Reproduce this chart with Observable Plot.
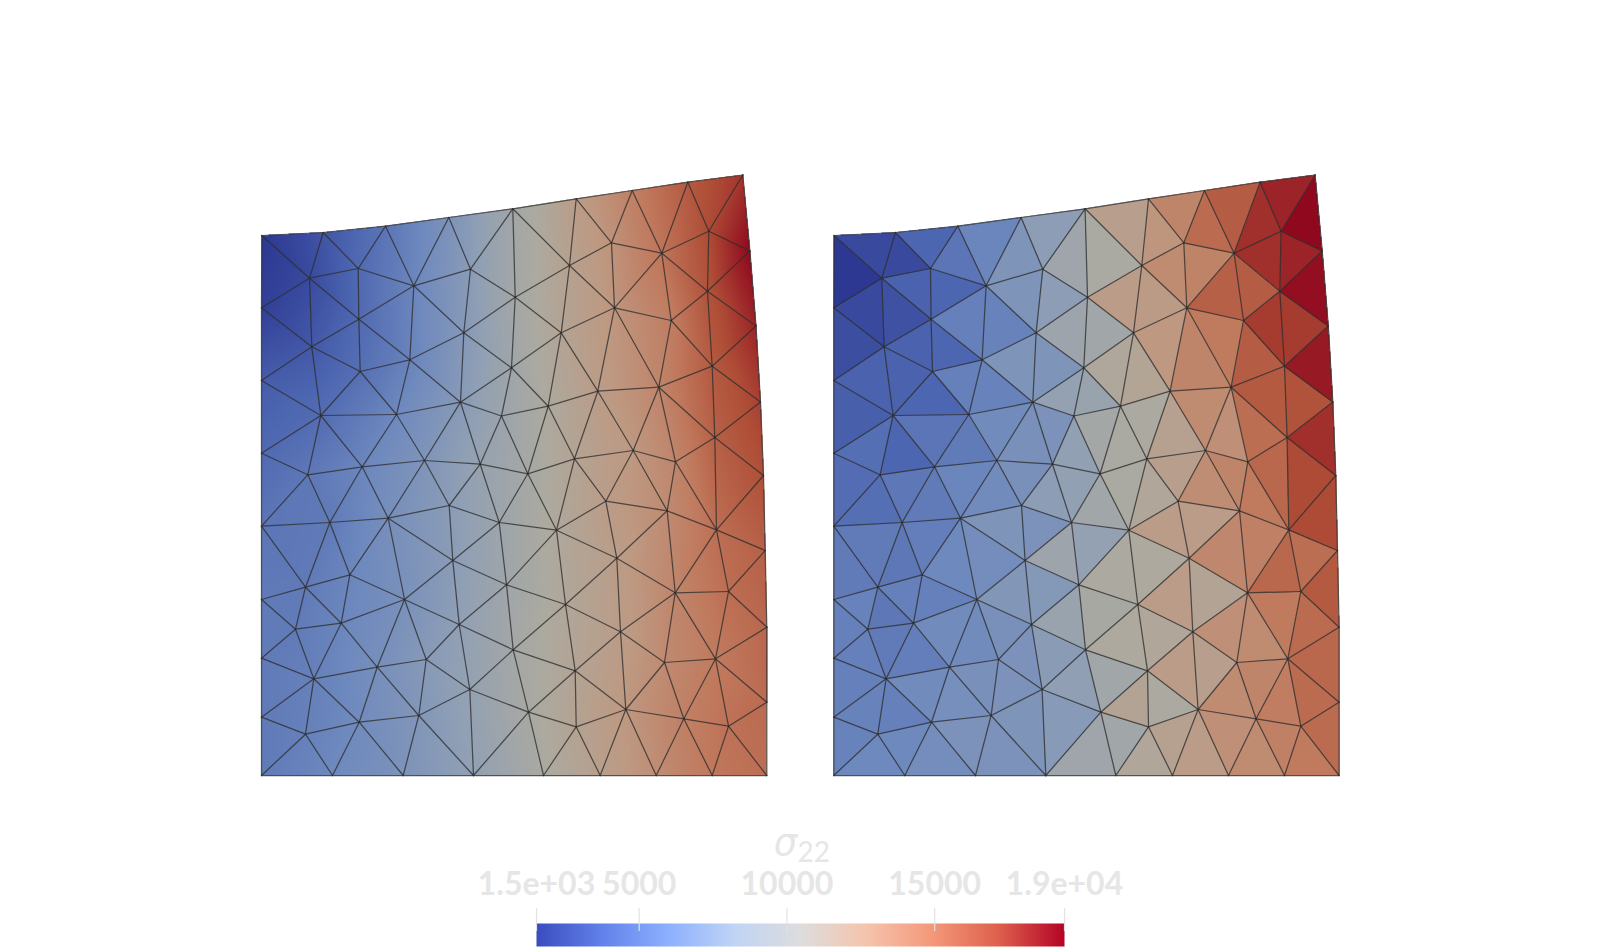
<!DOCTYPE html>
<html><head><meta charset="utf-8">
<script src="https://cdn.jsdelivr.net/npm/d3@7"></script>
<script src="https://cdn.jsdelivr.net/npm/@observablehq/plot@0.6"></script>
<style>html,body{margin:0;padding:0;background:#fff}svg{display:block}</style>
</head><body><div id="chart"></div>
<script>
// mesh nodes: id, x, y, nodal stress
const nodeIds = ["T0","T1","T2","T3","T4","T5","T6","T7","T8","L1","L2","L3","L4","L5","L6","L7","B0","B1","B2","B3","B4","B5","B6","B7","R8","R1","R2","R3","R4","R5","R6","R7",
"a","b","c","d","e","f","g","h","i","j","k","l","m","o","p","q","r","s","t","u","v","w","x","y","z",
"A","B","C","D","E","F","G","H","I","J","K","L","M","N","O","P","Q","R","S","T","U","V","W","X","Y","Z",
"a1","j1","k1","l1","m1","n1","o1","p1","q1","r1","s1","t1","u1","v1","w1","b1","c1","d1","e1","f1","g1","h1"];
const nodeX = [261.3,322.7,385,448.3,512.3,575.7,631.7,687.3,742.3,261,261,261,261,261,261,261,261,332,402.7,473,543,599.7,655.7,711.7,766.3,749.4,755.5,760,763,764.7,766.3,766.3,
309,357.7,413.3,470,358.3,463.3,311.3,409.3,359.7,569,611,661.3,708.3,514.7,614,707,670.7,560.7,711.7,511,320.3,396,460,501,307.3,
361.7,424,479.7,448.7,498.7,329.3,387.7,452.3,597.3,658.3,547.7,714.3,632.7,675,574,527.3,605.3,666.7,716,556,616.3,305,349.3,404,295,340.7,
458.7,506,565,620,674.7,728,512.7,574.7,664,715,528,625.3,575.7,683.3,728,313.3,376.7,425.7,469.3,305,358.7,418.3];
const nodeY = [235,232,225.7,217,208.3,198.3,190,181.7,174.5,307.3,380,452.7,525.7,599,657.7,716.7,775,775,775,775,775,775,775,775,775,250.4,325.5,401.5,475,550,626.7,701.7,
277.7,268,285.3,268.7,318.7,332.3,346.3,359.3,371,265,242.3,252.7,230.7,296.7,307.3,290.7,320,332.3,365.7,367.3,415,414,401.7,415.5,474.3,
466.3,460,463.7,505,522,522,517.7,560,390.7,386.7,405.7,437,450,461.3,458.3,473.3,500.7,510.3,529.3,529.7,557.7,586.7,574.3,599,628.7,622.7,
624,584.3,604,631.3,592.3,591,649.3,670.3,662,658.3,711.7,709,726.3,718.3,725.7,678.3,666.7,659,689,733.7,721.7,715];
const nodeStress = [1530,2960,4740,6890,9570,12250,14390,16530,17960,1900,3310,4030,4740,5100,5100,5100,5100,5990,6890,8310,10280,11890,13500,14930,15460,19390,18500,17600,17070,16180,15820,15640,
2420,4030,5810,7780,4030,7420,3130,5630,4380,11710,13140,15100,17250,9740,12960,16890,14570,11350,16530,9390,4200,5990,7600,9030,4920,
5810,7060,8670,7780,9210,5100,6530,7780,12250,14030,10640,16180,12780,14030,11350,9920,12250,13670,15460,10810,12250,5100,5810,6710,5100,5810,
8140,9390,10990,12250,14030,15460,9740,11350,13670,14750,10100,12780,11530,14390,15280,5460,6530,7600,8490,5460,6170,7240];

// mesh cells: node ids and the flat stress of each cell (right panel)
const cellNodes = ["T0 T1 a","T1 b a","T1 T2 b","T2 c b","T2 T3 c","T3 d c","T3 T4 d","T0 a L1","L1 a g","a e g","a b e","b c e","c h e","c f h","c d f","L1 g L2","g e i","e h i","L2 g v","g i v","i w v","h w i","h x w","h f x","f x u","d f o","T4 d o","f o u","x u y","u y K","x y C","y K P","T4 j o","T4 T5 j","T5 k j","T5 T6 k","T6 l k","T6 T7 l","T7 m l","T7 T8 m","T8 R1 m","j k p","o j s","j p s","k l p","l r p","l q r","l m q","m R1 q","R1 R2 q","q t r","q R2 t","o s u","u s K","s K I","p s I","p I J","p r J","r t J","J t L","t R2 R3","t R3 L","L R3 R4","L R4 S","J N M","J L N","L S N","N S R","M N R","M R Q","I J M","I M O","O M Q","K I O","K O P","y P C","P O T","O Q T","P T E","C P E","Q U T","Q R U","R S m1","S R4 R5","S R5 n1","S n1 m1","R U m1","T U k1","U l1 k1","U m1 l1","E T j1","T k1 j1","H E j1","D E H","C E D","B C D","x C B","w x B","w B A","v w A","v A z","L2 v L3","v z L3","L3 z L4","z F L4","z A F","A G F","A B G","B D G","G D H","G H X","H a1 X","H j1 a1","L4 F V","F W V","F G W","G X W","L4 V L5","L5 V Y","V Z Y","V W Z","W X Z","Z X c1","X d1 c1","X a1 d1","a1 e1 d1","a1 j1 o1","a1 o1 e1","L5 Y L6","Y b1 L6","Y Z b1","Z c1 b1","L6 b1 L7","b1 f1 L7","b1 g1 f1","b1 c1 g1","c1 h1 g1","c1 d1 h1","d1 e1 h1","h1 B3 e1","e1 B3 s1","e1 o1 s1","j1 k1 o1","o1 k1 p1","o1 p1 s1","p1 u1 s1","p1 t1 u1","k1 l1 p1","l1 t1 p1","l1 q1 t1","l1 m1 q1","m1 r1 q1","m1 n1 r1","n1 R6 r1","R5 R6 n1","R6 R7 r1","r1 R7 w1","q1 r1 v1","r1 w1 v1","q1 v1 t1","L7 f1 B0","f1 B0 B1","f1 B1 g1","g1 B1 B2","g1 B2 h1","h1 B2 B3","s1 B3 B4","s1 B4 u1","u1 B4 B5","u1 B5 t1","t1 B5 B6","t1 B6 v1","v1 B6 B7","v1 B7 w1","w1 B7 R8","w1 R8 R7"];
const cellStress = [2420,2420,3850,4740,5810,7060,7960,1530,2420,2780,3670,3850,5460,5630,7060,2600,3670,3850,3670,3670,3850,5460,5630,7060,7060,7960,9390,9210,8490,8850,6890,9740,10280,11890,12960,14030,15640,16350,18140,18500,19390,13670,12250,12420,14210,16180,16350,18140,18500,19210,17780,17780,9570,10810,11170,12780,14030,14750,16350,16530,18860,16890,18140,17250,13320,15460,15820,14750,14030,13500,13670,11710,11890,10460,10280,8310,10280,10990,9570,8310,12250,12250,14390,17250,15460,15820,13850,10640,12250,11350,8490,10460,9210,6890,7960,6710,6710,6170,5100,4740,3850,3490,4380,4210,4380,4920,5100,5810,6170,7060,6350,7240,7420,5100,4920,5280,5990,5100,5630,4920,5460,5460,6170,6170,6710,6890,8850,7780,5460,5460,5100,5280,5460,5630,5460,6170,6530,6710,6890,7060,7600,8140,10100,10640,9570,11350,10460,10990,12250,11890,13320,13670,14750,15640,16530,15820,15640,14030,14570,13670,5630,5990,5990,6350,6890,6890,9390,9570,10990,11710,12250,13320,13670,14390,14750,15640];

const panelOffset = [0, 572.3];
// colour map: the bar's colours and the same map as lit on the mesh
const colorStress = [1525,3758,5992,8225,10459,12692,14925,17159,19392];
const colorStops = ["rgb(59,76,192)","rgb(98,130,234)","rgb(141,176,254)","rgb(192,212,245)","rgb(221,221,221)","rgb(245,196,173)","rgb(244,152,122)","rgb(222,96,77)","rgb(180,4,38)"];
const meshStops = ["rgb(44,56,146)","rgb(76,101,176)","rgb(110,137,190)","rgb(145,160,180)","rgb(172,170,160)","rgb(190,153,130)","rgb(192,120,92)","rgb(175,78,55)","rgb(143,8,30)"];
const tickValues = [1525,5000,10000,15000,19392];
const tickLabels = ["1.5e+03","5000","10000","15000","1.9e+04"];
const titleMain = "σ", titleSub = "22";
const titleValue = 9951;

const ix = new Map(nodeIds.map((id,i)=>[id,i]));
const cells = cellNodes.map((s,i)=>{
  const n = s.split(" ").map(id=>ix.get(id));
  const xs = n.map(k=>nodeX[k]), ys = n.map(k=>nodeY[k]);
  const d = (ys[1]-ys[2])*(xs[0]-xs[2])+(xs[2]-xs[1])*(ys[0]-ys[2]);
  return {n,xs,ys,d,v:cellStress[i],x0:Math.min(...xs),x1:Math.max(...xs),y0:Math.min(...ys),y1:Math.max(...ys)};
});
function locate(x,y){
  for(const c of cells){
    if(x<c.x0-.8||x>c.x1+.8||y<c.y0-.8||y>c.y1+.8) continue;
    const a=((c.ys[1]-c.ys[2])*(x-c.xs[2])+(c.xs[2]-c.xs[1])*(y-c.ys[2]))/c.d;
    const b=((c.ys[2]-c.ys[0])*(x-c.xs[2])+(c.xs[0]-c.xs[2])*(y-c.ys[2]))/c.d;
    const g=1-a-b;
    if(a>=-.004&&b>=-.004&&g>=-.004) return {c,a,b,g};
  }
  return null;
}
const smooth=(x,y)=>{const h=locate(x,y); if(!h) return NaN;
  const s=h.c.n.map(k=>nodeStress[k]); return h.a*s[0]+h.b*s[1]+h.g*s[2];};
const flat=(x,y)=>{const h=locate(x-panelOffset[1],y); return h?h.c.v:NaN;};

const edgeKeys = new Set();
cells.forEach(c=>{for(let i=0;i<3;i++){const p=c.n[i],q=c.n[(i+1)%3];edgeKeys.add(p<q?p+"-"+q:q+"-"+p);}});
const edges = panelOffset.flatMap(dx=>[...edgeKeys].map(k=>{const [p,q]=k.split("-").map(Number);
  return {x1:nodeX[p]+dx,y1:nodeY[p],x2:nodeX[q]+dx,y2:nodeY[q]};}));

const mesh = Plot.plot({
  width:1600,height:800,margin:0,
  x:{domain:[0,1600],range:[0,1600],axis:null},
  y:{domain:[0,800],range:[0,800],axis:null},
  color:{type:"linear",domain:colorStress,range:meshStops,interpolate:"rgb"},
  marks:[
    Plot.raster({fill:smooth,x1:250,x2:780,y1:165,y2:785,pixelSize:1}),
    Plot.raster({fill:flat,x1:822,x2:1352,y1:165,y2:785,pixelSize:1}),
    Plot.link(edges,{x1:"x1",y1:"y1",x2:"x2",y2:"y2",stroke:"#2e2e2e",strokeWidth:1.25,strokeOpacity:.78,strokeLinecap:"round"})
  ]
});
const ticks = tickValues.map((v,i)=>({v,label:tickLabels[i]}));
const labelFont = {fontFamily:"Lato",fontWeight:700,fontSize:32,fill:"#e6e6e6",textAnchor:"middle"};
const bar = Plot.plot({
  width:1600,height:150,margin:0,
  x:{domain:[1525,19392],range:[536,1064],axis:null},
  y:{domain:[800,950],range:[0,150],axis:null},
  color:{type:"linear",domain:colorStress,range:colorStops,interpolate:"rgb"},
  marks:[
    Plot.raster({fill:(x)=>x,x1:1525,x2:19392,y1:923,y2:946,pixelSize:1}),
    Plot.ruleX(ticks,{x:"v",y1:908,y2:931,stroke:"#e2e2e2",strokeWidth:1.2}),
    Plot.text(ticks,{x:"v",y:884,text:"label",...labelFont}),
    Plot.text([titleMain],{x:()=>titleValue,y:()=>843,text:d=>d,fontFamily:"DejaVu Sans",fontStyle:"italic",fontSize:37,fill:"#e6e6e6",textAnchor:"middle"}),
    Plot.text([titleSub],{x:()=>titleValue,y:()=>853,text:d=>d,fontFamily:"Lato",fontSize:28,fill:"#e6e6e6",textAnchor:"start",dx:12})
  ]
});
document.getElementById("chart").append(mesh,bar);
</script></body></html>
